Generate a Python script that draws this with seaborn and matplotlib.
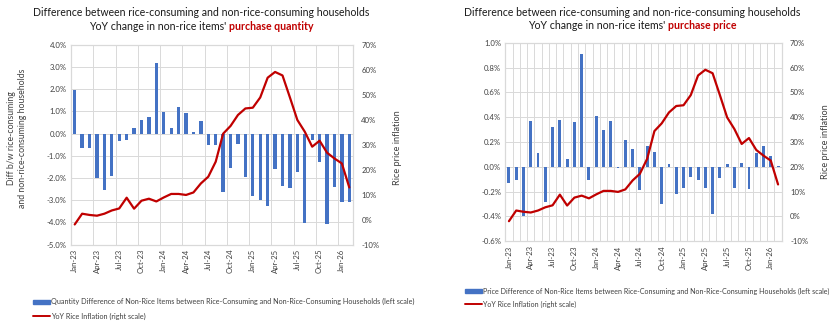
import matplotlib
matplotlib.use("Agg")
import numpy as np
import pandas as pd
import matplotlib.pyplot as plt
from matplotlib.ticker import FuncFormatter, FixedLocator
from matplotlib.patches import Patch
from matplotlib.lines import Line2D
from matplotlib.offsetbox import TextArea, HPacker, AnnotationBbox
import seaborn as sns

# ---- data -------------------------------------------------------------
months = list(pd.date_range("2023-01-01", periods=38, freq="MS").strftime("%b-%y"))

# difference in YoY change of non-rice purchase quantity (%)
qty_diff = [1.95, -0.63, -0.66, -2.02, -2.55, -1.93, -0.33, -0.30, 0.24, 0.61,
            0.76, 3.16, 0.97, 0.24, 1.21, 0.93, 0.06, 0.58, -0.53, -0.52,
            -2.62, -1.53, -0.49, -1.96, -2.80, -3.00, -3.25, -1.60, -2.37, -2.43,
            -1.71, -4.03, -0.30, -1.30, -4.06, -2.40, -3.10, -3.10]

# difference in YoY change of non-rice purchase price (%)
price_diff = [-0.13, -0.11, -0.40, 0.37, 0.11, -0.28, 0.32, 0.38, 0.06, 0.36,
              0.91, -0.11, 0.41, 0.30, 0.37, -0.01, 0.22, 0.14, -0.19, 0.17,
              0.12, -0.30, 0.02, -0.22, -0.17, -0.08, -0.11, -0.17, -0.38, -0.09,
              0.02, -0.17, 0.03, -0.18, 0.11, 0.17, 0.09, 0.01]

# YoY rice price inflation (%)
rice_infl = [-1.9, 2.4, 1.9, 1.6, 2.4, 3.7, 4.5, 8.8, 4.4, 7.6,
             8.4, 7.3, 8.9, 10.3, 10.3, 9.9, 10.9, 14.5, 17.2, 23.2,
             34.4, 37.5, 41.9, 44.5, 44.8, 48.9, 56.8, 59.1, 57.7, 48.9,
             39.9, 35.2, 29.2, 31.6, 26.8, 24.5, 22.5, 12.9]

tick_labels = months[::3]

df = pd.DataFrame({"month": months, "idx": np.arange(len(months)),
                   "qty": qty_diff, "price": price_diff, "rice": rice_infl})

# ---- style ------------------------------------------------------------
sns.set_style("white")
plt.rcParams["font.family"] = ["Lato", "DejaVu Sans"]
BLUE = "#4472C4"
RED = "#C00000"
GRID = "#D9D9D9"
TXT = "#404040"

fig = plt.figure(figsize=(8.4, 3.32), dpi=100)
W, H = 840, 332


def px_axes(x0, y0, x1, y1):
    return fig.add_axes([x0 / W, 1 - y1 / H, (x1 - x0) / W, (y1 - y0) / H])


def panel(ax, col, ylim, yticks, yfmt, minor_step, bar_width):
    sns.barplot(data=df, x="month", y=col, order=months, color=BLUE,
                saturation=1, width=bar_width, linewidth=0, ax=ax, zorder=2)
    ax.set_xlim(-0.5, len(months) - 0.5)
    ax.set_ylim(*ylim)
    ax.yaxis.set_major_locator(FixedLocator(yticks))
    ax.yaxis.set_major_formatter(FuncFormatter(yfmt))
    ax.set_xticks(range(0, len(months), 3))
    ax.set_xticklabels(tick_labels, rotation=90)
    ax.xaxis.set_minor_locator(FixedLocator(np.arange(-0.5, len(months), minor_step)))
    ax.grid(axis="y", which="major", color=GRID, lw=0.7, zorder=0)
    ax.grid(axis="x", which="minor", color=GRID, lw=0.7, zorder=0)
    ax.grid(axis="x", which="major", visible=False)
    ax.set_axisbelow(True)
    ax.tick_params(axis="both", which="both", length=0, labelsize=5.6,
                   colors=TXT, pad=3)
    ax.set_xlabel("")
    ax.set_ylabel("")
    for s in ax.spines.values():
        s.set_color(GRID)
        s.set_linewidth(0.8)

    ax2 = ax.twinx()
    sns.lineplot(data=df, x="idx", y="rice", color=RED, lw=1.6, ax=ax2)
    ax2.set_xlim(-0.5, len(months) - 0.5)
    ax2.set_ylim(-10, 70)
    ax2.yaxis.set_major_locator(FixedLocator(range(-10, 71, 10)))
    ax2.yaxis.set_major_formatter(FuncFormatter(lambda v, p: f"{v:.0f}%"))
    ax2.tick_params(axis="y", length=0, labelsize=5.6, colors=TXT, pad=6)
    ax2.set_ylabel("")
    ax2.grid(False)
    for s in ax2.spines.values():
        s.set_color(GRID)
        s.set_linewidth(0.8)
    return ax2


def two_tone_title(xc, y1, y2, highlight):
    fig.text(xc / W, 1 - y1 / H, "Difference between rice-consuming and non-rice-consuming households",
             ha="center", va="center", fontsize=7.6, color="#1a1a1a")
    a = TextArea("YoY change in non-rice items' ",
                 textprops=dict(fontsize=7.6, color="#1a1a1a"))
    b = TextArea(highlight, textprops=dict(fontsize=7.6, color=RED, fontweight="bold"))
    box = HPacker(children=[a, b], pad=0, sep=0, align="baseline")
    ab = AnnotationBbox(box, (xc / W, 1 - y2 / H), xycoords="figure fraction",
                        box_alignment=(0.5, 0.5), frameon=False, pad=0)
    fig.add_artist(ab)


# ---- left panel: purchase quantity -------------------------------------
axL = px_axes(71, 44.7, 353, 244.7)
panel(axL, "qty", (-5, 4), range(-5, 5), lambda v, p: f"{v:.1f}%", 3, 0.45)
two_tone_title(201, 12.7, 26.3, "purchase quantity")
fig.text(17 / W, 1 - 138 / H, "Diff b/w rice-consuming\nand non-rice-consuming households",
         rotation=90, ha="center", va="center", fontsize=6.3, color=TXT,
         linespacing=1.15)
fig.text(398 / W, 1 - 148 / H, "Rice price inflation", rotation=90,
         ha="center", va="center", fontsize=6.6, color=TXT)

handlesL = [Patch(color=BLUE), Line2D([0], [0], color=RED, lw=1.4)]
fig.legend(handlesL,
           ["Quantity Difference of Non-Rice Items between Rice-Consuming and Non-Rice-Consuming Households (left scale)",
            "YoY Rice Inflation (right scale)"],
           loc="center left", bbox_to_anchor=(29 / W, 1 - 309 / H),
           frameon=False, fontsize=5.25, handlelength=2.4, handleheight=0.5,
           handletextpad=0.15, labelspacing=1.0, borderpad=0, labelcolor=TXT)

# ---- right panel: purchase price ---------------------------------------
axR = px_axes(505.3, 42.7, 781.7, 241.3)
panel(axR, "price", (-0.6, 1.0), np.round(np.arange(-0.6, 1.01, 0.2), 1),
      lambda v, p: f"{v:.1f}%", 1, 0.4)
two_tone_title(632, 12.3, 25.9, "purchase price")
fig.text(825 / W, 1 - 142 / H, "Rice price inflation", rotation=90,
         ha="center", va="center", fontsize=6.6, color=TXT)

handlesR = [Patch(color=BLUE), Line2D([0], [0], color=RED, lw=1.4)]
fig.legend(handlesR,
           ["Price Difference of Non-Rice Items between Rice-Consuming and Non-Rice-Consuming Households (left scale)",
            "YoY Rice Inflation (right scale)"],
           loc="center left", bbox_to_anchor=(461 / W, 1 - 297.5 / H),
           frameon=False, fontsize=5.1, handlelength=2.4, handleheight=0.5,
           handletextpad=0.15, labelspacing=0.8, borderpad=0, labelcolor=TXT)

fig.savefig("out.png", dpi=100, facecolor="white")
